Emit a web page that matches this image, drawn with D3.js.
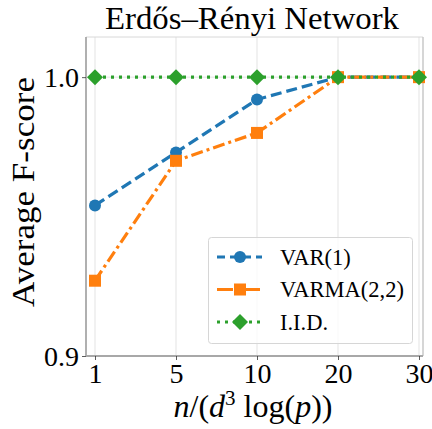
<!DOCTYPE html>
<html>
<head>
<meta charset="utf-8">
<script src="https://cdn.jsdelivr.net/npm/d3@7"></script>
<style>
  body { margin: 0; background: #fff; }
  text { font-family: "Liberation Serif", "DejaVu Serif", serif; fill: #000; }
</style>
</head>
<body>
<script>
// chart data
const xLabels = ["1", "5", "10", "20", "30"];
const varScores = [0.954, 0.973, 0.992, 1.0, 1.0];
const varmaScores = [0.927, 0.970, 0.980, 1.0, 1.0];
const iidScores = [1.0, 1.0, 1.0, 1.0, 1.0];
const yTicks = [0.9, 1.0];
const seriesNames = ["VAR(1)", "VARMA(2,2)", "I.I.D."];

const width = 432, height = 429;
const frame = {left: 86, right: 423, top: 37, bottom: 356};

const svg = d3.select("body").append("svg")
    .attr("width", width)
    .attr("height", height);

var x = d3.scalePoint().domain(xLabels).range([95, 419]);
var y = d3.scaleLinear().domain([0.9, 1.0144]).range([frame.bottom, frame.top]);

// grid
svg.append("g").selectAll("line")
    .data(xLabels)
    .enter().append("line")
    .attr("x1", d => x(d)).attr("x2", d => x(d))
    .attr("y1", frame.top).attr("y2", frame.bottom)
    .style("stroke", "#e0e0e0").style("stroke-width", 0.9);
svg.append("g").selectAll("line")
    .data(yTicks)
    .enter().append("line")
    .attr("x1", frame.left).attr("x2", frame.right)
    .attr("y1", d => y(d)).attr("y2", d => y(d))
    .style("stroke", "#e0e0e0").style("stroke-width", 0.9);

// frame
svg.append("line").attr("x1", frame.left).attr("x2", frame.right)
    .attr("y1", frame.top).attr("y2", frame.top)
    .style("stroke", "#d8d8d8").style("stroke-width", 1);
svg.append("line").attr("x1", frame.right).attr("x2", frame.right)
    .attr("y1", frame.top).attr("y2", frame.bottom)
    .style("stroke", "#c8c8c8").style("stroke-width", 1.5);
svg.append("line").attr("x1", frame.left).attr("x2", frame.left)
    .attr("y1", frame.top).attr("y2", frame.bottom)
    .style("stroke", "#a8a8a8").style("stroke-width", 1.8);
svg.append("line").attr("x1", frame.left).attr("x2", frame.right)
    .attr("y1", frame.bottom).attr("y2", frame.bottom)
    .style("stroke", "#a8a8a8").style("stroke-width", 1.8);

// axes
var xAxis = svg.append("g")
    .attr("transform", "translate(0," + frame.bottom + ")")
    .call(d3.axisBottom(x).tickSize(4).tickPadding(3));
var yAxis = svg.append("g")
    .attr("transform", "translate(" + frame.left + ",0)")
    .call(d3.axisLeft(y).tickValues(yTicks).tickFormat(d3.format(".1f")).tickSize(4).tickPadding(3));
[xAxis, yAxis].forEach(function(a) {
  a.select(".domain").remove();
  a.selectAll(".tick line").style("stroke", "#333").style("stroke-width", 0.8);
  a.selectAll("text").style("font-size", "28px")
    .style("font-family", '"Liberation Serif", serif').attr("fill", "#000");
});
xAxis.selectAll("text").attr("dy", "0.7em");
yAxis.selectAll("text").attr("dy", "0.34em");

// series
const colors = ["#1f77b4", "#ff7f0e", "#2ca02c"];
const dashes = ["11,5", "12,4,3,4", "3,5"];
const series = [varScores, varmaScores, iidScores];

var line = d3.line()
    .x(function(d, i) { return x(xLabels[i]); })
    .y(function(d) { return y(d); });

function drawMarker(g, kind, cx, cy, color) {
  if (kind == 0) {
    g.append("circle").attr("cx", cx).attr("cy", cy).attr("r", 6).style("fill", color);
  } else if (kind == 1) {
    g.append("rect").attr("x", cx - 6).attr("y", cy - 6).attr("width", 12).attr("height", 12).style("fill", color);
  } else {
    g.append("path").attr("d", "M" + cx + "," + (cy - 8) + "L" + (cx + 8) + "," + cy + "L" + cx + "," + (cy + 8) + "L" + (cx - 8) + "," + cy + "Z")
      .style("fill", color);
  }
}

series.forEach(function(vals, k) {
  var g = svg.append("g");
  g.append("path")
    .datum(vals)
    .attr("d", line)
    .style("fill", "none")
    .style("stroke", colors[k])
    .style("stroke-width", 3.2)
    .style("stroke-dasharray", dashes[k]);
  vals.forEach(function(v, i) {
    drawMarker(g, k, x(xLabels[i]), y(v), colors[k]);
  });
});

// legend
var legend = svg.append("g");
legend.append("rect")
    .attr("x", 208.5).attr("y", 237.5).attr("width", 204).attr("height", 106)
    .attr("rx", 3)
    .style("fill", "#fff").style("fill-opacity", 0.8)
    .style("stroke", "#d6d6d6").style("stroke-width", 1);
seriesNames.forEach(function(name, k) {
  var ly = 257 + k * 32.5;
  legend.append("line")
    .attr("x1", 217).attr("x2", 262).attr("y1", ly).attr("y2", ly)
    .style("stroke", colors[k]).style("stroke-width", 3.2)
    .style("stroke-dasharray", k == 0 ? "8,5" : (k == 1 ? "16,4,3,4" : "3,5"));
  drawMarker(legend, k, 240, ly, colors[k]);
  legend.append("text")
    .attr("x", 280).attr("y", ly).attr("dy", "0.35em")
    .style("font-size", "22.5px")
    .text(name);
});

// title and labels
svg.append("text")
    .attr("x", 252).attr("y", 29)
    .attr("text-anchor", "middle")
    .style("font-size", "31px")
    .attr("textLength", 294).attr("lengthAdjust", "spacingAndGlyphs")
    .text("Erdős–Rényi Network");

svg.append("text")
    .attr("transform", "translate(34,192) rotate(-90)")
    .attr("text-anchor", "middle")
    .style("font-size", "31px")
    .attr("textLength", 230).attr("lengthAdjust", "spacingAndGlyphs")
    .text("Average F-score");

var xl = svg.append("text")
    .attr("x", 253).attr("y", 417)
    .attr("text-anchor", "middle")
    .style("font-size", "32px");
xl.append("tspan").style("font-style", "italic").text("n");
xl.append("tspan").text("/(");
xl.append("tspan").style("font-style", "italic").text("d");
xl.append("tspan").attr("dy", -12).style("font-size", "21px").text("3");
xl.append("tspan").attr("dy", 12).text(" log(");
xl.append("tspan").style("font-style", "italic").text("p");
xl.append("tspan").text("))");
</script>
</body>
</html>
